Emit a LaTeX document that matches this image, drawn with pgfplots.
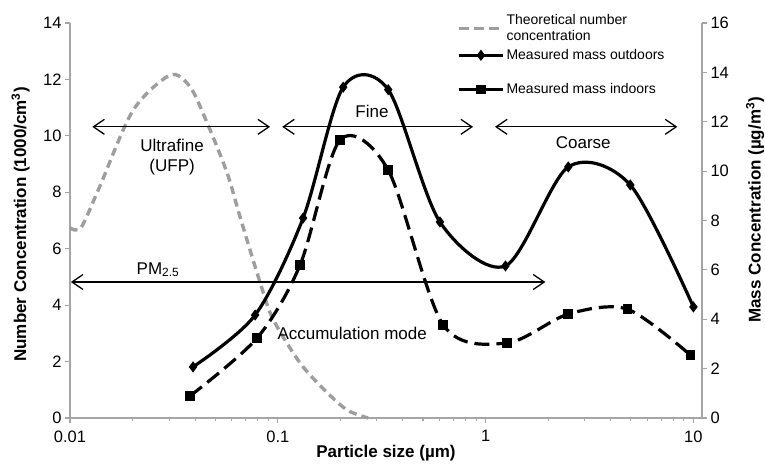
\documentclass[border=0pt]{standalone}
\usepackage{fontspec}
\setmainfont{Liberation Sans}
\usepackage{pgfplots}
\pgfplotsset{compat=1.18}
\usetikzlibrary{arrows.meta}
\definecolor{axgray}{RGB}{165,165,165}
\definecolor{curvegray}{RGB}{158,158,158}

\begin{document}
\begin{tikzpicture}
\begin{axis}[
  scale only axis, width=632bp, height=395bp,
  xmode=log, xmin=0.01, xmax=11,
  axis x line*=bottom, axis y line*=left,
  axis line style={axgray, line width=1.1pt},
  tick style={axgray, line width=1.1pt},
  tick align=outside, major tick length=5bp,
  tick label style={font=\fontsize{16.5bp}{18bp}\selectfont, text=black},
  xticklabel style={yshift=-4bp},
  /pgf/number format/assume math mode=true,
  clip=false,
  ymin=0, ymax=14, ytick={0,2,...,14},
  xtick={0.01,0.1,1,10}, xticklabels={0.01,0.1,1,10}, minor xtick={},
  xlabel={\bfseries Particle size (µm)},
  xlabel style={font=\fontsize{17bp}{19bp}\selectfont, at={(axis description cs:0.5,-0.09)}, anchor=center},
  ylabel={\bfseries Number Concentration (1000/cm\textsuperscript{3})},
  ylabel style={font=\fontsize{17bp}{19bp}\selectfont, at={(axis description cs:-0.078,0.49)}, anchor=center},
]
\addplot[curvegray, line width=3.4bp, dash pattern=on 8bp off 5bp, smooth, tension=0.5] coordinates {
(0.0100,6.74) (0.0113,6.75) (0.0139,8.2) (0.0201,10.9) (0.0303,12.15) (0.0378,11.74)
(0.0457,10.46) (0.057,8.69) (0.0658,7.13) (0.0822,4.8) (0.0949,3.5) (0.128,1.95)
(0.170,0.95) (0.216,0.28) (0.272,0.0)
};
\draw[{Straight Barb[length=11bp,width=15bp]}-{Straight Barb[length=11bp,width=15bp]}, line width=1.3pt]
  (axis cs:0.0128,10.32) -- (axis cs:0.0918,10.32);
\draw[{Straight Barb[length=11bp,width=15bp]}-{Straight Barb[length=11bp,width=15bp]}, line width=1.3pt]
  (axis cs:0.105,10.32) -- (axis cs:0.87,10.32);
\draw[{Straight Barb[length=11bp,width=15bp]}-{Straight Barb[length=11bp,width=15bp]}, line width=1.3pt]
  (axis cs:1.11,10.32) -- (axis cs:8.37,10.32);
\draw[{Straight Barb[length=11bp,width=15bp]}-{Straight Barb[length=11bp,width=15bp]}, line width=1.3pt]
  (axis cs:0.0101,4.82) -- (axis cs:1.94,4.82);
\node[font=\fontsize{17bp}{20bp}\selectfont, align=center] at (axis cs:0.031,9.26) {Ultrafine\\(UFP)};
\node[font=\fontsize{17bp}{20bp}\selectfont] at (axis cs:0.284,10.85) {Fine};
\node[font=\fontsize{17bp}{20bp}\selectfont] at (axis cs:2.95,9.75) {Coarse};
\node[font=\fontsize{17bp}{20bp}\selectfont] at (axis cs:0.0265,5.25) {PM\textsubscript{2.5}};
\node[font=\fontsize{17bp}{20bp}\selectfont] at (axis cs:0.228,3.0) {Accumulation mode};
\end{axis}

\begin{axis}[
  scale only axis, width=632bp, height=395bp,
  xmode=log, xmin=0.01, xmax=11,
  axis x line=none, axis y line*=right,
  axis line style={axgray, line width=1.1pt},
  tick style={axgray, line width=1.1pt},
  tick align=outside, major tick length=5bp,
  tick label style={font=\fontsize{16.5bp}{18bp}\selectfont, text=black},
  /pgf/number format/assume math mode=true,
  clip=false,
  ymin=0, ymax=16, ytick={0,2,...,16},
  ylabel={\bfseries Mass Concentration (µg/m\textsuperscript{3})},
  ylabel style={font=\fontsize{17bp}{19bp}\selectfont, at={(axis description cs:1.084,0.527)}, anchor=center},
  legend style={draw=none, fill=none, at={(axis description cs:0.611,1.03)}, anchor=north west,
    font=\fontsize{14bp}{16.5bp}\selectfont, cells={align=left}, row sep=3bp, inner sep=1bp},
  legend cell align=left,
  legend image code/.code={\draw[mark repeat=2,mark phase=2,#1] plot coordinates {(0bp,0bp) (22bp,0bp) (44bp,0bp)};},
]
\addlegendimage{curvegray, line width=3.2bp, dash pattern=on 10bp off 5bp}
\addlegendentry{Theoretical number\\concentration}
\addlegendimage{black, line width=3.2bp, mark=diamond*, mark size=3bp}
\addlegendentry{Measured mass outdoors}
\addlegendimage{empty legend}
\addlegendentry{\rule{0pt}{7bp}}
\addlegendimage{black, line width=3.2bp, mark=square*, mark size=3.2bp}
\addlegendentry{Measured mass indoors}
\addplot[black, line width=3.2bp, smooth, tension=0.5, mark=diamond*, mark size=3bp, mark options={solid}, forget plot] coordinates {
(0.0391,2.07) (0.0778,4.17) (0.1324,8.1) (0.2064,13.4) (0.34,13.3) (0.603,7.94)
(1.246,6.16) (2.5,10.17) (4.97,9.44) (10,4.5)
};
\addplot[black, line width=3.2bp, dash pattern=on 15bp off 7bp, smooth, tension=0.5, mark=square*, mark size=3.2bp, mark options={solid}, forget plot] coordinates {
(0.0378,0.89) (0.0795,3.24) (0.128,6.2) (0.1995,11.26) (0.34,10.04) (0.625,3.77)
(1.27,3.04) (2.5,4.21) (4.81,4.41) (9.67,2.55)
};
\end{axis}
\pgfresetboundingbox
\path (-70bp,-47bp) rectangle (695bp,418bp);
\end{tikzpicture}
\end{document}
